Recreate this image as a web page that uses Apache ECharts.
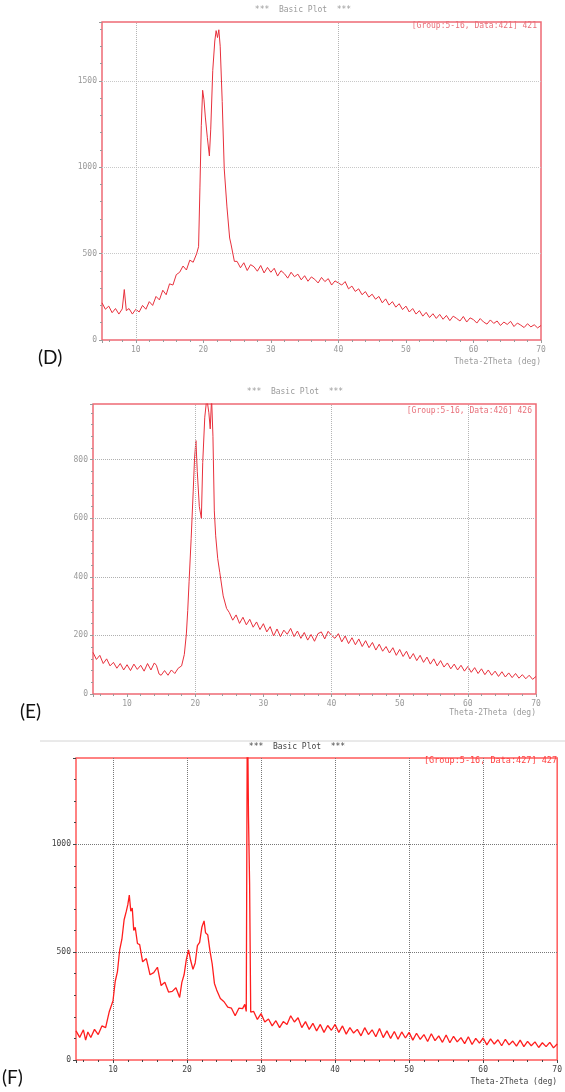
<!DOCTYPE html>
<html>
<head>
<meta charset="utf-8">
<script src="https://cdn.jsdelivr.net/npm/echarts@6/dist/echarts.min.js"></script>
<style>
html, body { margin: 0; padding: 0; background: #fff; }
#chart { width: 565px; height: 1092px; }
</style>
</head>
<body>
<div id="chart"></div>
<script>
// 2theta steps shared by the flat tails (25..70 deg)
var tailAngle = [
  25, 25.5, 26, 26.5, 27, 27.5, 28, 28.5, 29, 29.5,
  30, 30.5, 31, 31.5, 32, 32.5, 33, 33.5, 34, 34.5,
  35, 35.5, 36, 36.5, 37, 37.5, 38, 38.5, 39, 39.5,
  40, 40.5, 41, 41.5, 42, 42.5, 43, 43.5, 44, 44.5,
  45, 45.5, 46, 46.5, 47, 47.5, 48, 48.5, 49, 49.5,
  50, 50.5, 51, 51.5, 52, 52.5, 53, 53.5, 54, 54.5,
  55, 55.5, 56, 56.5, 57, 57.5, 58, 58.5, 59, 59.5,
  60, 60.5, 61, 61.5, 62, 62.5, 63, 63.5, 64, 64.5,
  65, 65.5, 66, 66.5, 67, 67.5, 68, 68.5, 69, 69.5,
  70
];

// (D)
var dHeadAngle = [
  5, 5.5, 6, 6.5, 7, 7.5, 8, 8.3, 8.6, 9,
  9.5, 10, 10.5, 11, 11.5, 12, 12.5, 13, 13.5, 14,
  14.5, 15, 15.5, 16, 16.5, 17, 17.5, 18, 18.5, 19,
  19.3, 19.5, 19.7, 19.9, 20.1, 20.3, 20.6, 20.9, 21.1, 21.4,
  21.7, 21.9, 22.1, 22.3, 22.5, 22.8, 23.1, 23.5, 23.9, 24.1,
  24.3, 24.6
];
var dHeadCount = [
  215, 178, 196, 158, 182, 150, 180, 292, 170, 182,
  150, 178, 162, 200, 178, 222, 200, 252, 232, 288,
  262, 325, 318, 378, 392, 428, 405, 462, 450, 498,
  540, 880, 1240, 1445, 1390, 1290, 1170, 1065, 1220, 1560,
  1730, 1790, 1750, 1795, 1700, 1380, 990, 770, 590, 555,
  545, 455
];
var dTailCount = [
  455, 418, 447, 402, 436, 424, 398, 431, 388, 420,
  392, 415, 370, 401, 384, 358, 392, 366, 381, 348,
  372, 340, 365, 351, 330, 362, 338, 355, 318, 342,
  330, 318, 338, 296, 312, 281, 296, 262, 280, 248,
  265, 236, 252, 215, 238, 202, 222, 190, 210, 176,
  196, 162, 182, 150, 170, 138, 160, 130, 152, 125,
  148, 120, 142, 112, 138, 125, 110, 136, 104, 128,
  118, 98, 124, 104, 92, 116, 96, 110, 84, 104,
  90, 108, 78, 98, 86, 72, 94, 76, 88, 70,
  84
];
var dGridX = [10, 40];

// (E)
var eHeadAngle = [
  5, 5.5, 6, 6.5, 7, 7.5, 8, 8.5, 9, 9.5,
  10, 10.5, 11, 11.5, 12, 12.5, 13, 13.5, 14, 14.3,
  14.7, 15, 15.5, 16, 16.5, 17, 17.5, 18, 18.4, 18.7,
  18.9, 19.1, 19.4, 19.7, 19.9, 20.1, 20.3, 20.6, 20.9, 21.1,
  21.4, 21.7, 22, 22.2, 22.4, 22.6, 22.8, 23, 23.3, 23.6,
  24.1, 24.6
];
var eHeadCount = [
  142, 118, 132, 104, 120, 96, 108, 88, 104, 82,
  100, 80, 102, 84, 98, 78, 104, 82, 106, 98,
  68, 64, 80, 64, 82, 70, 88, 96, 135, 205,
  285, 385, 530, 690, 805, 865, 760, 640, 600, 790,
  945, 1010, 960, 905, 1010, 880, 625, 540, 462, 415,
  335, 292
];
var eTailCount = [
  278, 252, 270, 241, 262, 236, 255, 228, 246, 220,
  240, 212, 230, 198, 222, 196, 218, 204, 224, 196,
  215, 190, 210, 184, 203, 180, 206, 212, 188, 214,
  200, 190, 206, 178, 198, 172, 192, 168, 188, 162,
  182, 158, 176, 150, 170, 146, 162, 140, 158, 132,
  152, 128, 146, 120, 138, 114, 132, 108, 126, 102,
  120, 96, 114, 92, 106, 86, 102, 82, 98, 78,
  94, 74, 90, 70, 86, 66, 82, 64, 78, 60,
  76, 58, 72, 56, 70, 54, 66, 52, 64, 50,
  60
];
var eGridX = [20, 40, 60];

// (F)
var fHeadAngle = [
  5, 5.5, 6, 6.3, 6.6, 7, 7.5, 8, 8.5, 9,
  9.5, 10, 10.3, 10.6, 10.9, 11.2, 11.5, 11.8, 12, 12.2,
  12.4, 12.6, 12.8, 13, 13.3, 13.6, 14, 14.5, 15, 15.5,
  16, 16.5, 17, 17.5, 18, 18.5, 19, 19.3, 19.6, 19.9,
  20.2, 20.5, 20.8, 21.1, 21.4, 21.7, 22, 22.3, 22.5, 22.8,
  23.1, 23.4, 23.7, 24, 24.5, 25, 25.5, 26, 26.5, 27,
  27.5, 27.8, 28, 28.15, 28.3, 28.45, 28.6
];
var fHeadCount = [
  135, 105, 140, 92, 130, 104, 142, 118, 158, 150,
  225, 275, 365, 410, 510, 560, 650, 690, 720, 765,
  690, 705, 600, 615, 540, 535, 455, 470, 395, 405,
  430, 345, 360, 315, 318, 335, 290, 360, 395, 465,
  510, 460, 420, 450, 530, 545, 615, 645, 590, 580,
  505, 445, 355, 325, 285, 270, 245, 240, 205, 240,
  238, 258, 225, 1700, 1130, 820, 222
];
// from 29 deg on
var fTailCount = [
  225, 188,
  215, 176, 190, 158, 182, 150, 178, 165, 205, 176,
  196, 150, 178, 142, 170, 135, 165, 128, 160, 138,
  165, 128, 158, 120, 150, 125, 142, 112, 150, 118,
  140, 108, 146, 104, 135, 100, 132, 96, 130, 102,
  128, 92, 124, 96, 118, 86, 122, 90, 112, 82,
  116, 80, 110, 84, 104, 76, 108, 72, 100, 78,
  102, 70, 98, 74, 94, 66, 96, 70, 88, 64,
  92, 62, 86, 66, 84, 58, 80, 62, 82, 56,
  74
];

var yMax = [1840, 990, 1400];
var yStep = [500, 200, 500];

function pairs(angles, counts) {
  return angles.map(function (a, i) { return [a, counts[i]]; });
}

var dData = pairs(dHeadAngle.concat(tailAngle), dHeadCount.concat(dTailCount));
var eData = pairs(eHeadAngle.concat(tailAngle), eHeadCount.concat(eTailCount));
var fData = pairs(fHeadAngle.concat(tailAngle.slice(8)), fHeadCount.concat(fTailCount));

var mono = 'DejaVu Sans Mono';
var faint = '#9a9a9a';
var dark = '#444';
function plain(v) { return String(v); }

function xAxis(i, col, namePad, grid) {
  return {
    type: 'value', gridIndex: i, min: 5, max: 70,
    name: 'Theta-2Theta (deg)', nameLocation: 'end', nameGap: 0,
    nameTextStyle: { align: 'right', verticalAlign: 'top', padding: [namePad, 0, 0, 0], color: col, fontSize: 8, fontFamily: mono },
    axisLine: { show: false },
    axisTick: { length: 3, lineStyle: { color: col } },
    minorTick: { show: true, splitNumber: 5, length: 2, lineStyle: { color: col } },
    axisLabel: { showMinLabel: false, fontSize: 8, color: col, margin: 6, fontFamily: mono, formatter: plain },
    splitLine: { show: grid, showMinLine: false, showMaxLine: false, lineStyle: { type: 'dotted', color: '#777', width: 1 } }
  };
}

function yAxis(i, col, gcol) {
  return {
    type: 'value', gridIndex: i, min: 0, max: yMax[i], interval: yStep[i],
    axisLine: { show: false },
    axisTick: { length: 3, lineStyle: { color: col } },
    minorTick: { show: true, splitNumber: 5, length: 2, lineStyle: { color: col } },
    axisLabel: { showMaxLabel: false, fontSize: 8, color: col, margin: 5, fontFamily: mono, formatter: plain },
    splitLine: { showMinLine: false, showMaxLine: false, lineStyle: { type: 'dotted', color: gcol, width: 1 } }
  };
}

function vLines(xs) {
  return {
    silent: true, symbol: 'none', label: { show: false },
    lineStyle: { type: 'dotted', color: '#b5b5b5', width: 1 },
    data: xs.map(function (v) { return { xAxis: v }; })
  };
}

var myChart = echarts.init(document.getElementById('chart'));
myChart.setOption({
  animation: false,
  backgroundColor: '#fff',
  grid: [
    { left: 102, top: 22, width: 439, height: 318, show: true, borderColor: '#ee6a74', borderWidth: 1.5 },
    { left: 93, top: 404, width: 443, height: 290, show: true, borderColor: '#ee6a74', borderWidth: 1.5 },
    { left: 76, top: 758, width: 483, height: 302, show: true, borderColor: '#ff5a5a', borderWidth: 1.5 }
  ],
  xAxis: [xAxis(0, faint, 18, false), xAxis(1, faint, 15, false), xAxis(2, dark, 18, true)],
  yAxis: [yAxis(0, faint, '#c8c8c8'), yAxis(1, faint, '#b0b0b0'), yAxis(2, dark, '#777')],
  series: [
    { type: 'line', xAxisIndex: 0, yAxisIndex: 0, data: dData, showSymbol: false,
      lineStyle: { color: '#e8303c', width: 1 }, markLine: vLines(dGridX) },
    { type: 'line', xAxisIndex: 1, yAxisIndex: 1, data: eData, showSymbol: false,
      lineStyle: { color: '#e8303c', width: 1 }, markLine: vLines(eGridX) },
    { type: 'line', xAxisIndex: 2, yAxisIndex: 2, data: fData, showSymbol: false,
      lineStyle: { color: '#ff1e1e', width: 1.3 } }
  ],
  graphic: [
    { type: 'line', shape: { x1: 40, y1: 741, x2: 565, y2: 741 }, style: { stroke: '#d4d4d4', lineWidth: 1 } },
    { type: 'text', x: 303, y: 10, style: { text: '***  Basic Plot  ***', fill: faint, font: '8px "DejaVu Sans Mono"', textAlign: 'center', textVerticalAlign: 'middle' } },
    { type: 'text', x: 295, y: 392, style: { text: '***  Basic Plot  ***', fill: faint, font: '8px "DejaVu Sans Mono"', textAlign: 'center', textVerticalAlign: 'middle' } },
    { type: 'text', x: 297, y: 747, style: { text: '***  Basic Plot  ***', fill: dark, font: '8px "DejaVu Sans Mono"', textAlign: 'center', textVerticalAlign: 'middle' } },
    { type: 'text', x: 537, y: 26, style: { text: '[Group:5-16, Data:421] 421', fill: '#e8707a', font: '8px "DejaVu Sans Mono"', textAlign: 'right', textVerticalAlign: 'middle' } },
    { type: 'text', x: 532, y: 411, style: { text: '[Group:5-16, Data:426] 426', fill: '#e8707a', font: '8px "DejaVu Sans Mono"', textAlign: 'right', textVerticalAlign: 'middle' } },
    { type: 'text', x: 557, y: 761, style: { text: '[Group:5-16, Data:427] 427', fill: '#ff4040', font: '8.5px "DejaVu Sans Mono"', textAlign: 'right', textVerticalAlign: 'middle' } },
    { type: 'text', x: 38, y: 358, style: { text: '(D)', fill: '#111', font: '19px Lato', textVerticalAlign: 'middle' } },
    { type: 'text', x: 20, y: 712, style: { text: '(E)', fill: '#111', font: '19px Lato', textVerticalAlign: 'middle' } },
    { type: 'text', x: 2, y: 1078, style: { text: '(F)', fill: '#111', font: '19px Lato', textVerticalAlign: 'middle' } }
  ]
});
</script>
</body>
</html>
